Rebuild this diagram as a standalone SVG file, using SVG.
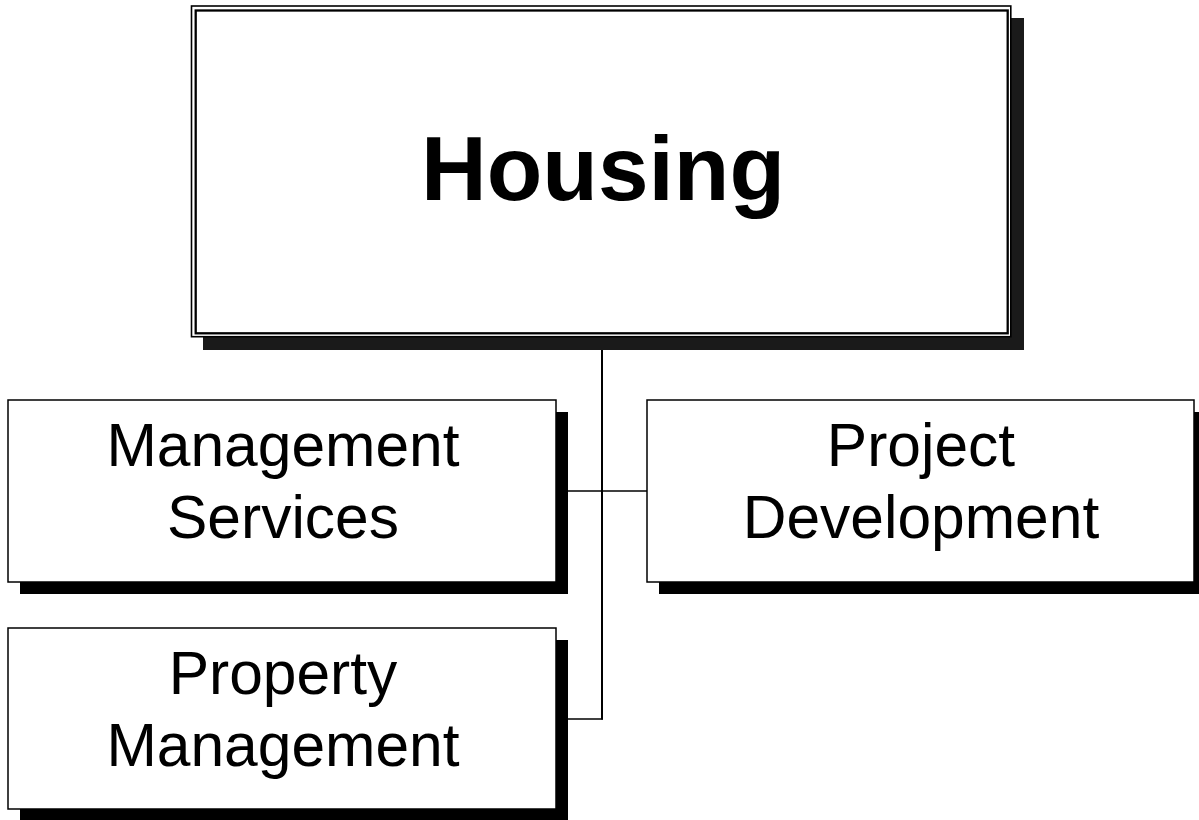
<svg xmlns="http://www.w3.org/2000/svg" width="1199" height="820" viewBox="0 0 1199 820">
<style>
.box{fill:#fff;stroke:#000;stroke-width:1.5}
.shadow{fill:#000}
.lbl{font-family:"Liberation Sans",Arial,sans-serif;font-size:60.5px;fill:#000;text-anchor:middle}
.title{font-family:"Liberation Sans",Arial,sans-serif;font-size:91px;font-weight:bold;fill:#000;text-anchor:middle}
.conn{fill:none;stroke:#000}
</style>
<rect width="1199" height="820" fill="#fff"/>
<g id="connectors">
<line class="conn" x1="602" y1="337" x2="602" y2="719.5" stroke-width="2"/>
<line class="conn" x1="556" y1="491" x2="647" y2="491" stroke-width="1.5"/>
<line class="conn" x1="556" y1="719" x2="603" y2="719" stroke-width="1.5"/>
</g>
<g id="housing">
<rect x="203" y="18" width="821" height="332" fill="#1a1a1a"/>
<rect x="191.5" y="6" width="819.3" height="330.7" fill="#fff" stroke="#000" stroke-width="1.6"/>
<rect x="195.7" y="10.5" width="812" height="322.8" fill="none" stroke="#000" stroke-width="2.3"/>
<text class="title" x="603" y="200">Housing</text>
</g>
<g id="management-services">
<rect class="shadow" x="20" y="412" width="548" height="182"/>
<rect class="box" x="8" y="400" width="548" height="182"/>
<text class="lbl" x="283" y="466">Management</text>
<text class="lbl" x="283" y="538">Services</text>
</g>
<g id="project-development">
<rect class="shadow" x="659" y="412" width="547" height="182"/>
<rect class="box" x="647" y="400" width="547" height="182"/>
<text class="lbl" x="921" y="466">Project</text>
<text class="lbl" x="921" y="538">Development</text>
</g>
<g id="property-management">
<rect class="shadow" x="20" y="640" width="548" height="181"/>
<rect class="box" x="8" y="628" width="548" height="181"/>
<text class="lbl" x="283" y="694">Property</text>
<text class="lbl" x="283" y="766">Management</text>
</g>
</svg>
